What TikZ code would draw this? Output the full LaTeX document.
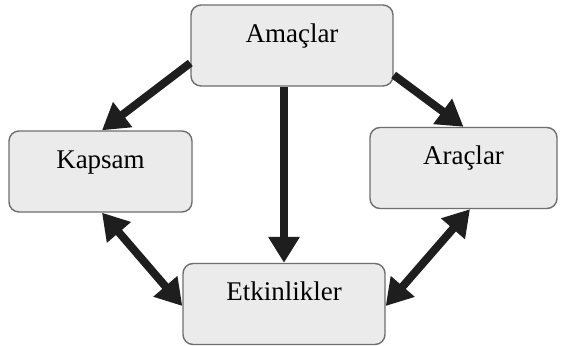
\documentclass[tikz,border=0pt]{standalone}
\usepackage{fontspec}
\setmainfont{Liberation Serif}
\usetikzlibrary{arrows.meta}
\definecolor{boxfill}{HTML}{EBEBEB}
\definecolor{boxline}{HTML}{6E6E6E}
\definecolor{arrcol}{HTML}{1E1E1E}
\tikzset{
  box/.style={draw=boxline, fill=boxfill, line width=1.4pt, rounded corners=10pt,
    inner xsep=0pt, inner ysep=0pt, text height=37pt, text depth=44pt,
    font=\fontsize{27}{30}\selectfont},
  arr/.style={draw=arrcol, line width=8pt, -{Triangle[length=26pt,width=30pt]}},
  darr/.style={draw=arrcol, line width=8pt, {Triangle[length=26pt,width=30pt]}-{Triangle[length=26pt,width=30pt]}}
}
\begin{document}
\begin{tikzpicture}[x=1pt,y=-1pt]
\useasboundingbox (0,0) rectangle (566,346);
\node[box, minimum width=202pt] (A) at (292,45.5) {Amaçlar};
\node[box, minimum width=183pt] (K) at (100.5,171.5) {Kapsam};
\node[box, minimum width=187pt] (R) at (463.5,168) {Araçlar};
\node[box, minimum width=202pt] (E) at (284,304) {Etkinlikler};
\draw[arr] ([yshift=-17.5pt]A.west) -- ([xshift=1.5pt]K.north);
\draw[arr] ([yshift=-29.5pt]A.east) -- (R.north);
\draw[arr] (E.north |- A.south) -- (E.north);
\draw[darr] ([xshift=1.5pt]K.south) -- ([yshift=-2pt]E.west);
\draw[darr] ([xshift=6.5pt]R.south) -- ([yshift=-2pt]E.east);
\end{tikzpicture}
\end{document}
